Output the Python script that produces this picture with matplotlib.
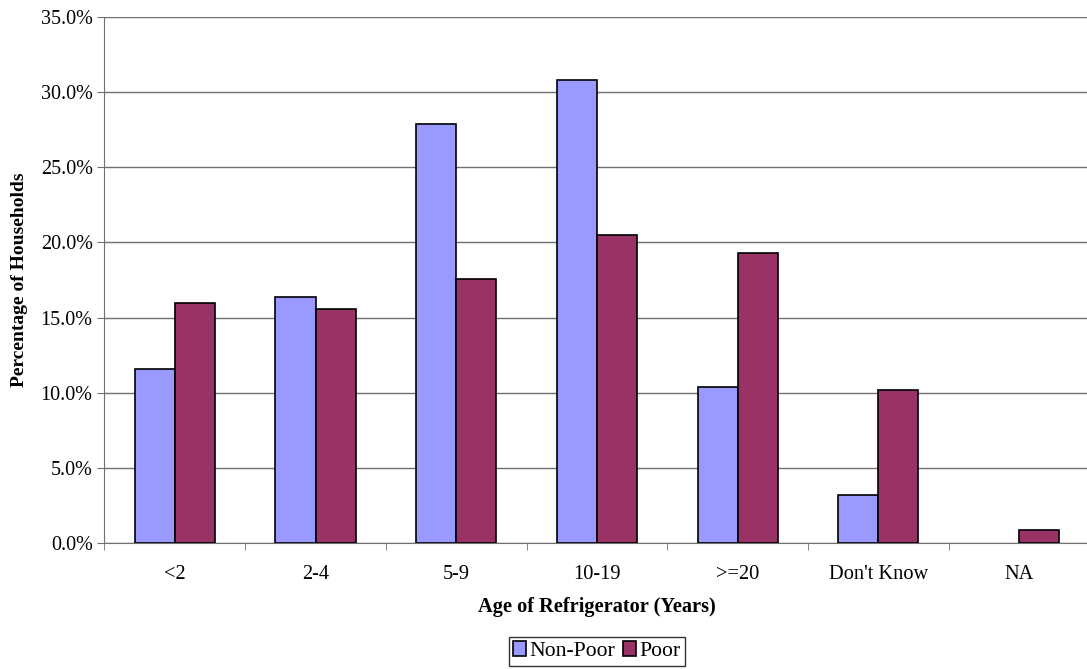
import matplotlib.pyplot as plt
import numpy as np
from matplotlib.ticker import FuncFormatter

categories = ["<2", "2-4", "5-9", "10-19", ">=20", "Don't Know", "NA"]
non_poor = [11.6, 16.4, 27.9, 30.8, 10.4, 3.2, 0.0]
poor = [16.0, 15.6, 17.6, 20.5, 19.3, 10.2, 0.9]

plt.rcParams["font.family"] = ["Liberation Serif", "DejaVu Serif"]

fig = plt.figure(figsize=(10.87, 6.69), dpi=100)
# plot area runs slightly past the right edge of the canvas
ax = fig.add_axes([0.0961, 0.1883, 0.9061, 0.7863])

x = np.arange(len(categories))
w = 0.285
bars_np = ax.bar(x - w / 2, non_poor, w, color="#9999FF", edgecolor="black", lw=1.2,
                 label="Non-Poor", zorder=3)
bars_p = ax.bar(x + w / 2, poor, w, color="#993366", edgecolor="black", lw=1.2,
                label="Poor", zorder=3)
# empty bars leave no outline on the axis
for b, v in zip(list(bars_np) + list(bars_p), non_poor + poor):
    if v == 0:
        b.set_linewidth(0)

ax.set_xlim(-0.5, len(categories) - 0.5)
ax.set_ylim(0, 35)
ax.set_yticks(np.arange(0, 35.1, 5))
ax.yaxis.set_major_formatter(FuncFormatter(lambda v, _: f"{v:.1f}%"))
ax.grid(axis="y", color="#707070", lw=1, zorder=0)

# category labels centred, tick marks on category boundaries
ax.set_xticks(x)
ax.set_xticklabels(categories)
ax.tick_params(axis="x", length=0, labelsize=14.7, pad=16)
ax.set_xticks(np.arange(-0.5, len(categories), 1), minor=True)
ax.tick_params(axis="x", which="minor", length=5, direction="out", color="#707070")
ax.tick_params(axis="y", labelsize=14.5, length=5, direction="out", color="#707070")

for s in ("top", "right"):
    ax.spines[s].set_visible(False)
for s in ("left", "bottom"):
    ax.spines[s].set_color("#707070")

ax.set_xlabel("Age of Refrigerator (Years)", fontsize=14.7, fontweight="bold", labelpad=9)
ax.set_ylabel("Percentage of Households", fontsize=14, fontweight="bold", labelpad=9)

# legend centred under the plot area, not the canvas
ax.legend(loc="lower center", bbox_to_anchor=(0.0961 + 0.9061 / 2, -0.011),
          bbox_transform=fig.transFigure, ncol=2, fontsize=15.6,
          frameon=True, fancybox=False, edgecolor="black", handlelength=0.6,
          handleheight=0.7, handletextpad=0.15, columnspacing=0.35,
          borderpad=0.2)

fig.savefig("out.png", dpi=100)
